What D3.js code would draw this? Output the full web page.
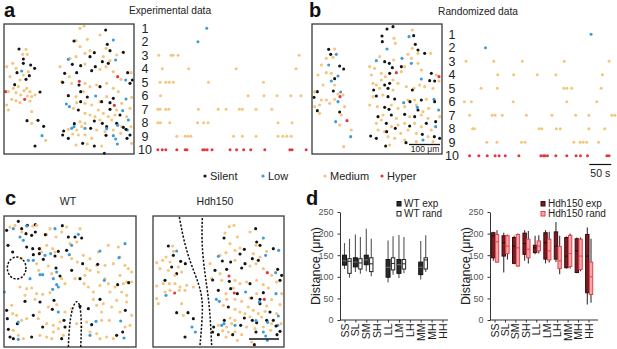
<!DOCTYPE html>
<html><head><meta charset="utf-8">
<script src="https://cdn.jsdelivr.net/npm/d3@7"></script>
<style>body{margin:0;background:#fff;} svg{display:block;font-family:"Liberation Sans",Arial,sans-serif;}</style>
</head><body><svg id="fig" width="617" height="349"></svg>
<script>
// ---------- DATA ----------
// cell positions, in field units (x, y, activity class)
const expCells = [
[57,87,"S"],[78,88,"M"],[68,103,"M"],[82,103,"M"],[70,117,"S"],[70,130,"S"],[92,135,"S"],[104,145,"S"],[38,130,"M"],[20,140,"M"],
[51,158,"S"],[65,153,"L"],[48,145,"M"],[85,155,"M"],[88,167,"S"],[78,178,"S"],[70,165,"M"],[60,180,"M"],[30,170,"M"],[44,194,"S"],
[40,205,"M"],[55,200,"M"],[80,205,"M"],[72,212,"M"],[17,215,"H"],[25,215,"M"],[48,218,"M"],[62,225,"M"],[90,215,"M"],[120,216,"S"],
[105,225,"M"],[95,230,"M"],[82,228,"M"],[35,238,"M"],[48,242,"M"],[74,238,"H"],[90,243,"M"],[60,248,"M"],[20,255,"M"],[25,270,"M"],
[95,275,"M"],[81,302,"S"],[114,301,"S"],[131,319,"S"],[95,310,"M"],[126,347,"L"],[137,361,"M"],[105,378,"S"],
[240,25,"M"],[252,18,"M"],[317,30,"S"],[300,45,"M"],[340,60,"L"],[228,62,"M"],[222,63,"S"],[262,58,"M"],[322,73,"S"],[318,85,"M"],
[330,92,"S"],[240,80,"M"],[270,92,"M"],[255,100,"M"],[283,98,"S"],[228,110,"M"],[210,115,"M"],[270,110,"S"],[310,110,"M"],[307,125,"S"],
[330,122,"M"],[370,97,"S"],[347,120,"L"],[350,105,"M"],[205,118,"L"],[217,133,"S"],[242,137,"S"],[255,132,"M"],[286,140,"S"],[300,148,"M"],
[180,140,"M"],[194,160,"S"],[208,170,"M"],[230,158,"S"],[275,152,"S"],[318,140,"M"],[325,130,"S"],[340,155,"M"],[383,158,"S"],[393,158,"M"],
[397,180,"S"],[353,170,"H"],[363,178,"M"],[377,180,"L"],[185,185,"M"],[188,187,"S"],[215,190,"M"],[238,184,"H"],[237,195,"S"],[255,190,"M"],
[270,200,"M"],[290,195,"M"],[300,200,"S"],[320,190,"M"],[340,205,"M"],[355,215,"M"],[390,190,"S"],[250,215,"M"],[242,215,"S"],[228,230,"M"],
[205,227,"S"],[287,228,"L"],[262,231,"S"],[300,245,"M"],[305,245,"S"],[320,230,"M"],[340,235,"S"],[330,248,"S"],[378,237,"L"],[395,232,"M"],
[199,252,"L"],[208,260,"L"],[230,248,"M"],[242,245,"S"],[255,250,"M"],[275,255,"M"],[295,270,"M"],[343,256,"H"],[330,268,"S"],[350,270,"M"],
[365,250,"M"],[368,272,"L"],[390,265,"M"],[235,270,"S"],[220,265,"M"],[255,280,"M"],[270,285,"M"],[285,290,"M"],[310,280,"M"],[325,290,"M"],
[345,285,"M"],[360,285,"S"],[380,290,"M"],[385,300,"L"],[223,311,"S"],[222,320,"L"],[240,305,"M"],[255,310,"M"],[283,303,"S"],[300,300,"M"],
[307,310,"S"],[320,320,"S"],[320,326,"L"],[335,300,"M"],[350,310,"S"],[353,316,"L"],[365,320,"M"],[370,322,"S"],[382,330,"L"],[393,320,"M"],
[378,328,"S"],[191,333,"S"],[205,328,"M"],[215,325,"L"],[230,330,"M"],[245,320,"M"],[255,325,"L"],[272,325,"S"],[290,330,"M"],[315,335,"M"],
[340,330,"M"],[188,345,"S"],[205,355,"S"],[218,342,"M"],[235,345,"M"],[255,345,"M"],[275,355,"M"],[318,346,"S"],[340,347,"L"],[347,357,"L"],
[362,340,"M"],[390,345,"S"],[381,355,"S"],[228,375,"M"],[248,370,"S"],[262,372,"M"],[283,378,"S"],[305,378,"M"],[352,372,"L"],[395,370,"M"],
[313,400,"S"]
];
const randCells = [
[62,88,"S"],[80,87,"M"],[68,103,"S"],[85,103,"L"],[75,112,"M"],[55,115,"M"],[62,135,"L"],[40,135,"M"],[95,138,"S"],[107,147,"S"],
[55,158,"M"],[70,160,"M"],[90,168,"L"],[80,176,"S"],[30,165,"M"],[70,183,"L"],[45,195,"M"],[80,195,"M"],[28,215,"S"],[20,215,"M"],
[76,213,"S"],[98,216,"L"],[90,222,"M"],[96,230,"H"],[105,225,"M"],[40,240,"M"],[55,240,"M"],[80,238,"M"],[90,245,"L"],[65,250,"M"],
[18,232,"S"],[35,255,"M"],[20,260,"M"],[110,260,"M"],[28,272,"S"],[35,280,"M"],[95,276,"S"],[100,285,"M"],[83,305,"L"],[117,302,"H"],
[95,315,"M"],[130,330,"M"],[128,350,"L"],[107,380,"M"],
[237,27,"S"],[255,20,"S"],[222,48,"S"],[258,55,"M"],[303,50,"L"],[317,47,"S"],[313,30,"M"],[322,73,"S"],[223,65,"S"],[262,70,"M"],
[237,87,"L"],[313,85,"M"],[330,90,"S"],[330,100,"M"],[350,100,"S"],[300,103,"M"],[368,100,"M"],[215,110,"M"],[205,122,"L"],[230,125,"S"],
[244,130,"S"],[257,120,"M"],[282,115,"L"],[310,115,"M"],[310,130,"L"],[330,130,"M"],[185,140,"M"],[200,145,"M"],[253,143,"S"],[280,140,"S"],
[290,140,"M"],[265,158,"H"],[280,155,"M"],[340,150,"M"],[370,160,"S"],[385,165,"M"],[393,170,"H"],[380,183,"S"],[340,177,"L"],[365,182,"S"],
[393,183,"M"],[190,165,"M"],[220,160,"M"],[245,160,"S"],[232,170,"M"],[255,180,"M"],[245,190,"S"],[270,190,"M"],[195,190,"M"],[230,195,"S"],
[220,180,"M"],[205,195,"M"],[197,210,"S"],[215,205,"M"],[240,205,"S"],[255,210,"M"],[295,200,"M"],[318,205,"M"],[313,210,"S"],[335,195,"M"],
[350,200,"M"],[375,205,"M"],[195,230,"M"],[205,228,"S"],[225,225,"M"],[240,230,"S"],[260,237,"S"],[287,248,"L"],[300,240,"M"],[306,245,"S"],
[320,240,"M"],[340,240,"S"],[355,238,"M"],[378,238,"L"],[380,245,"S"],[185,255,"M"],[208,260,"M"],[230,262,"S"],[250,255,"M"],[243,268,"S"],
[270,265,"M"],[290,260,"M"],[325,255,"M"],[330,270,"S"],[328,262,"L"],[345,275,"M"],[362,265,"M"],[392,270,"L"],[210,290,"S"],[225,285,"M"],
[250,285,"S"],[265,295,"M"],[290,283,"S"],[305,290,"M"],[320,290,"S"],[340,285,"M"],[360,295,"M"],[383,305,"S"],[395,290,"M"],[383,320,"L"],
[370,330,"M"],[205,310,"M"],[220,300,"M"],[235,310,"S"],[250,320,"M"],[270,315,"M"],[290,310,"M"],[305,318,"S"],[320,310,"M"],[340,320,"M"],
[355,310,"S"],[210,330,"M"],[230,335,"M"],[262,325,"S"],[278,340,"M"],[300,330,"M"],[325,340,"M"],[343,343,"S"],[345,360,"L"],[360,350,"M"],
[188,348,"S"],[205,355,"S"],[236,335,"S"],[240,350,"M"],[260,355,"M"],[233,378,"S"],[245,375,"M"],[290,360,"M"],[294,368,"S"],[325,365,"M"],
[379,350,"S"],[395,355,"S"],[375,365,"M"]
];
const wtCells = [
[55,28,"S"],[30,45,"M"],[40,50,"L"],[20,55,"S"],[45,40,"M"],[82,40,"S"],[98,42,"M"],[106,38,"S"],[80,42,"L"],[65,50,"S"],
[60,75,"L"],[78,65,"S"],[70,85,"L"],[65,60,"M"],[95,70,"S"],[106,60,"S"],[110,40,"M"],[150,50,"M"],[165,50,"L"],[187,41,"S"],
[200,45,"M"],[185,60,"M"],[140,68,"M"],[136,68,"S"],[168,75,"M"],[205,75,"S"],[225,75,"S"],[235,67,"L"],[245,78,"S"],[240,50,"M"],
[140,100,"M"],[158,110,"M"],[175,118,"S"],[210,95,"M"],[215,100,"L"],[200,115,"S"],[230,90,"M"],[125,120,"M"],[120,110,"M"],[24,100,"S"],
[80,105,"S"],[98,110,"S"],[118,110,"S"],[118,125,"S"],[100,128,"S"],[38,120,"S"],[100,145,"L"],[110,155,"M"],[135,130,"L"],[152,125,"L"],
[165,120,"M"],[165,132,"S"],[185,135,"M"],[208,128,"L"],[215,140,"M"],[232,150,"M"],[250,130,"M"],[248,155,"S"],[295,120,"M"],[325,100,"M"],
[375,95,"L"],[355,105,"M"],[300,117,"L"],[270,140,"M"],[290,160,"M"],[293,157,"S"],[270,175,"M"],[295,180,"M"],[315,160,"M"],[340,155,"M"],
[360,135,"M"],[357,137,"L"],[375,160,"M"],[385,170,"M"],[395,180,"M"],[360,190,"M"],[380,210,"M"],[370,215,"M"],[386,212,"S"],[395,210,"M"],
[130,142,"S"],[120,188,"L"],[116,175,"M"],[128,188,"L"],[145,162,"M"],[155,185,"M"],[168,168,"S"],[170,180,"L"],[180,192,"S"],[160,200,"L"],
[170,218,"L"],[158,232,"L"],[150,242,"M"],[175,225,"L"],[195,215,"M"],[185,200,"M"],[215,175,"S"],[240,200,"S"],[225,200,"M"],[260,170,"M"],
[255,190,"M"],[252,215,"M"],[265,225,"M"],[280,240,"M"],[300,220,"M"],[315,200,"M"],[325,215,"M"],[313,205,"L"],[330,240,"M"],[345,225,"M"],
[353,218,"S"],[365,240,"M"],[380,250,"M"],[90,200,"L"],[85,145,"L"],[65,140,"M"],[13,240,"L"],[60,225,"M"],[80,230,"M"],[95,228,"M"],
[75,268,"S"],[110,245,"M"],[128,247,"M"],[75,250,"M"],[120,270,"S"],[105,262,"M"],[162,265,"S"],[145,285,"M"],[157,292,"S"],[170,278,"M"],
[175,300,"L"],[195,300,"M"],[215,290,"M"],[240,283,"S"],[265,290,"S"],[280,262,"M"],[290,280,"M"],[300,262,"S"],[310,275,"M"],[305,300,"M"],
[335,285,"M"],[350,265,"M"],[380,270,"M"],[376,295,"S"],[360,300,"M"],[288,328,"L"],[305,325,"M"],[328,325,"M"],[362,327,"L"],[368,360,"S"],
[375,345,"M"],[372,378,"L"],[390,340,"M"],[395,310,"M"],[20,295,"S"],[35,280,"M"],[22,320,"S"],[38,305,"M"],[50,310,"M"],[52,335,"S"],
[65,325,"M"],[25,352,"S"],[40,355,"M"],[55,330,"L"],[80,320,"M"],[100,310,"S"],[118,300,"M"],[115,320,"M"],[128,345,"S"],[140,335,"M"],
[160,340,"M"],[192,325,"S"],[180,330,"M"],[195,345,"S"],[175,350,"M"],[160,360,"M"],[155,380,"M"],[185,380,"S"],[190,370,"M"],[230,335,"M"],
[245,345,"M"],[275,338,"S"],[260,330,"M"],[270,360,"M"],[270,370,"L"],[290,365,"M"],[320,375,"M"],[340,380,"M"],[350,370,"S"],[300,380,"M"],
[30,375,"S"],[40,380,"S"],[55,370,"M"],[55,382,"L"],[70,380,"M"],[95,375,"S"],[120,370,"M"],[140,375,"M"]
];
const hdhCells = [
[55,102,"S"],[68,102,"M"],[80,117,"L"],[70,118,"M"],[70,130,"S"],[48,135,"M"],[38,145,"M"],[20,152,"M"],[92,148,"S"],[106,155,"S"],
[60,150,"M"],[65,165,"S"],[85,165,"M"],[30,170,"M"],[55,175,"M"],[80,185,"S"],[95,180,"M"],[75,190,"M"],[45,205,"S"],[40,215,"M"],
[58,215,"M"],[20,222,"M"],[75,215,"M"],[90,225,"M"],[110,220,"M"],[130,225,"M"],[45,240,"M"],[74,243,"H"],[48,250,"L"],[60,235,"M"],
[88,235,"M"],[105,235,"M"],[20,260,"M"],[25,275,"M"],[95,275,"M"],[80,302,"S"],[114,302,"S"],[130,320,"S"],[100,310,"M"],[126,345,"L"],
[136,360,"L"],[105,375,"S"],
[238,44,"M"],[252,40,"M"],[317,50,"S"],[300,60,"M"],[340,78,"L"],[225,63,"M"],[222,78,"S"],[262,75,"M"],[320,90,"S"],[330,100,"S"],
[318,100,"M"],[240,95,"M"],[270,108,"M"],[255,115,"M"],[283,112,"S"],[228,122,"M"],[210,130,"M"],[270,126,"S"],[310,125,"M"],[307,140,"S"],
[330,135,"M"],[370,110,"S"],[347,130,"L"],[350,118,"M"],[386,115,"L"],[205,133,"L"],[217,147,"S"],[242,150,"S"],[255,145,"M"],[285,155,"S"],
[300,162,"M"],[180,155,"M"],[195,175,"S"],[210,185,"M"],[230,172,"S"],[275,168,"S"],[318,155,"M"],[325,145,"S"],[340,170,"M"],[383,172,"S"],
[395,190,"S"],[352,182,"H"],[365,190,"M"],[377,182,"L"],[185,200,"M"],[188,204,"S"],[215,205,"M"],[237,192,"H"],[238,208,"S"],[255,205,"M"],
[270,215,"M"],[290,210,"M"],[300,215,"S"],[320,205,"M"],[340,218,"M"],[355,228,"M"],[390,205,"S"],[380,210,"M"],[250,228,"M"],[242,230,"S"],
[228,245,"M"],[205,235,"S"],[287,240,"L"],[262,245,"S"],[300,258,"M"],[305,258,"S"],[320,245,"M"],[340,242,"S"],[330,262,"S"],[378,245,"L"],
[395,245,"M"],[199,262,"L"],[208,268,"L"],[230,262,"M"],[253,243,"H"],[235,285,"S"],[255,262,"M"],[275,268,"M"],[295,285,"M"],[343,262,"H"],
[330,275,"S"],[350,282,"M"],[365,263,"M"],[328,270,"L"],[390,278,"M"],[220,280,"M"],[255,292,"M"],[270,300,"M"],[285,305,"M"],[310,295,"M"],
[325,305,"M"],[345,298,"M"],[360,300,"S"],[380,305,"M"],[385,312,"L"],[223,325,"S"],[222,335,"L"],[240,318,"M"],[255,325,"M"],[283,318,"S"],
[300,315,"M"],[307,325,"S"],[320,332,"S"],[318,326,"L"],[335,315,"M"],[350,325,"S"],[353,331,"L"],[365,335,"M"],[370,325,"S"],[383,340,"L"],
[393,335,"M"],[378,342,"S"],[191,345,"S"],[205,340,"M"],[215,340,"L"],[230,345,"M"],[245,335,"M"],[255,340,"L"],[272,340,"S"],[290,345,"M"],
[315,350,"M"],[340,345,"M"],[188,360,"S"],[205,368,"S"],[218,356,"M"],[235,360,"M"],[255,360,"M"],[275,368,"M"],[318,360,"S"],[340,360,"L"],
[347,372,"L"],[362,355,"M"],[390,358,"S"],[381,368,"S"],[228,375,"M"],[248,368,"S"],[262,385,"M"],[305,390,"M"],[352,385,"L"],[313,398,"S"]
];
// raster: event times (s) per neuron 1..10
const rasterClass = ["L","L","M","M","M","M","M","M","M","H"];
const expRaster = [
[113],[93],
[4,32,37,48,323],
[12,72,180,316],
[7,20,28,37,117,242],
[8,207,243,273,304,327],
[2,7,20,27,94,139,157,187,194,225,261],
[2,8,29,92,106,116,275,307],
[45,64,71,77,174,194,225,275,286,295,305],
[2,12,20,45,64,68,104,108,114,125,166,181,197,213,245,302,307,339]
];
const randRaster = [
[291],[51],
[7,70,135,230,332],
[79,115,169,211,317],
[41,78,229,236,247,314],
[3,19,114,236,304],
[15,66,73,89,144,202,256,286,338,345],
[22,26,173,179,212,221,286,322],
[54,77,133,141,252,266,273,281,308],
[15,36,55,73,82,96,127,177,183,186,192,211,236,257,267,283,327,332]
];
// box plots: [min, q1, median, q3, max] (µm)
const pairCats = ["SS","SL","SM","SH","LL","LM","LH","MM","MH","HH"];
const wtExp  = [[118,127,137,150,178],[111,123,134,144,198],[113,128,139,150,211],null,[87,99,122,140,184],[97,108,128,140,197],null,[94,105,122,134,183],null,null];
const wtRand = [[98,108,136,142,188],[107,118,132,142,192],[101,112,130,144,188],null,[105,116,131,144,194],[108,118,130,140,192],null,[111,118,139,144,196],null,null];
const hdhExp = [[137,144,195,202,204],[110,148,179,195,202],[129,131,171,191,195],[137,152,177,201,208],[152,156,167,173,195],[131,141,179,202,208],[134,141,171,204,227],[119,121,148,191,193],[108,110,160,188,191],[36,63,148,198,214]];
const hdhRand= [[133,134,181,198,208],[140,154,171,195,198],[123,125,167,198,200],[131,144,164,187,206],[154,160,171,183,196],[133,139,160,187,204],[106,119,137,170,195],[119,124,154,196,200],[113,117,148,187,191],[40,59,100,134,188]];
const yTicks = [0,50,100,150,200,250];
const classNames = [["S","Silent"],["L","Low"],["M","Medium"],["H","Hyper"]];

// ---------- DRAW ----------
const svg = d3.select("#fig");
const col = {S:"#141414", L:"#3d9bd6", M:"#f5c57c", H:"#e5353f"};
const FONT = "'Liberation Sans',Arial,sans-serif";

function txt(x,y,s,o={}) {
  return svg.append("text").attr("x",x).attr("y",y).text(s)
    .attr("font-size",o.size||10).attr("font-weight",o.bold?"bold":"normal")
    .attr("text-anchor",o.anchor||"start").attr("fill",o.fill||"#222");
}

function field(cells, xr, yr, dx, dy) {
  const sx = d3.scaleLinear().domain(dx).range(xr);
  const sy = d3.scaleLinear().domain(dy).range(yr);
  const g = svg.append("g");
  g.selectAll("circle").data(cells).join("circle")
    .attr("cx",d=>sx(d[0])).attr("cy",d=>sy(d[1])).attr("r",1.55)
    .attr("fill",d=>col[d[2]]);
  g.append("rect").attr("x",xr[0]).attr("y",yr[0]).attr("width",xr[1]-xr[0]).attr("height",yr[1]-yr[0])
    .attr("fill","none").attr("stroke","#3a3a3a").attr("stroke-width",1.3);
  return {sx, sy, g};
}

function raster(data, x0, y0, yStep, labelX) {
  const sx = d3.scaleLinear().domain([0,50]).range([x0, x0+22]);
  const sy = d3.scalePoint().domain(d3.range(1,11)).range([y0, y0+9*yStep]);
  const g = svg.append("g");
  data.forEach((times,i)=>{
    g.append("text").attr("x",labelX).attr("y",sy(i+1)+4.3).attr("text-anchor","middle")
      .attr("font-size",12.5).attr("fill","#222").text(i+1);
    g.selectAll(null).data(times).join("circle")
      .attr("cx",t=>sx(t)).attr("cy",sy(i+1)).attr("r",1.5).attr("fill",col[rasterClass[i]]);
  });
  return sx;
}

// panel a
txt(4,17,"a",{size:20,bold:true,fill:"#111"});
txt(170,14,"Experimental data",{size:10.2,anchor:"middle"});
field(expCells,[4,134],[24,154],[12,402],[12,402]);
raster(expRaster,157,28.3,13.5,145);

// panel b
txt(309,17,"b",{size:20,bold:true,fill:"#111"});
txt(478,14.5,"Randomized data",{size:10.2,anchor:"middle"});
field(randCells,[312,442],[24,154],[12,402],[12,402]);
svg.append("line").attr("x1",409).attr("x2",440).attr("y1",144.5).attr("y2",144.5).attr("stroke","#111").attr("stroke-width",1.3);
txt(425,152,"100 μm",{size:8.5,anchor:"middle"});
const rb = raster(randRaster,463,34.3,13.5,452);
svg.append("line").attr("x1",rb(287)).attr("x2",rb(337)).attr("y1",164.5).attr("y2",164.5).attr("stroke","#111").attr("stroke-width",1.2);
txt((rb(287)+rb(337))/2,177,"50 s",{size:10.5,anchor:"middle"});

// legend
const legX = [205,263,325,382];
classNames.forEach((c,i)=>{
  svg.append("circle").attr("cx",legX[i]).attr("cy",176).attr("r",1.6).attr("fill",col[c[0]]);
  txt(legX[i]+5,179.5,c[1],{size:11});
});

// panel c
txt(5,205,"c",{size:20,bold:true,fill:"#111"});
txt(68,205,"WT",{size:10.5,anchor:"middle"});
txt(215,205,"Hdh150",{size:10.5,anchor:"middle"});
const wt = field(wtCells,[4,136],[216,347],[12,408],[12,405]);
const hd = field(hdhCells,[153,284],[216,347],[9,402],[12,405]);
const dashed = (g)=>g.attr("fill","none").attr("stroke","#111").attr("stroke-width",1.5).attr("stroke-dasharray","2.2,1.6");
// WT outlines (field units)
const wtRing = d3.range(0,361,10).map(a=>[50+28*Math.cos(a*Math.PI/180),168+33*Math.sin(a*Math.PI/180)]);
const wtArch = [[205,405],[207,360],[211,320],[218,285],[230,263],[240,278],[244,320],[244,360],[242,405]];
const hdLine1 = [[88,15],[100,80],[120,150],[145,210],[158,260],[157,320],[150,400]];
const hdLine2 = [[157,18],[155,80],[160,150],[170,220],[178,280],[182,340],[185,400]];
const lg = (s)=>d3.line().x(d=>s.sx(d[0])).y(d=>s.sy(d[1])).curve(d3.curveBasis);
dashed(svg.append("path").attr("d",d3.line().x(d=>wt.sx(d[0])).y(d=>wt.sy(d[1])).curve(d3.curveCardinalClosed)(wtRing.slice(0,-1))));
dashed(svg.append("path").attr("d",lg(wt)(wtArch)));
dashed(svg.append("path").attr("d",lg(hd)(hdLine1)));
dashed(svg.append("path").attr("d",lg(hd)(hdLine2)));
svg.append("line").attr("x1",249).attr("x2",279).attr("y1",339).attr("y2",339).attr("stroke","#111").attr("stroke-width",1.5);

// panel d
txt(306,205,"d",{size:20,bold:true,fill:"#111"});
const y = d3.scaleLinear().domain([0,250]).range([320,212]);

function boxPanel(axX, xEnd, x0, x1, exp, rand, sty, legend, legX) {
  const x = d3.scalePoint().domain(pairCats).range([x0,x1]);
  const g = svg.append("g");
  // axes
  const ya = g.append("g").attr("transform",`translate(${axX},0)`).call(d3.axisLeft(y).tickValues(yTicks).tickSize(2.5).tickSizeOuter(0));
  ya.selectAll("text").attr("font-size",9).attr("fill","#555").attr("font-family",FONT).attr("dx",-1);
  ya.selectAll("path,line").attr("stroke","#333");
  g.append("line").attr("x1",axX).attr("x2",xEnd).attr("y1",320).attr("y2",320).attr("stroke","#333");
  g.selectAll(".xt").data(pairCats).join("line").attr("x1",d=>x(d)).attr("x2",d=>x(d)).attr("y1",320).attr("y2",322.5).attr("stroke","#333");
  g.selectAll(".xl").data(pairCats).join("text")
    .attr("transform",d=>`translate(${x(d)+3.6},323.5) rotate(-90)`).attr("text-anchor","end")
    .attr("font-size",10.5).attr("fill","#222").text(d=>d);
  g.append("text").attr("transform",`translate(${axX-20},266) rotate(-90)`).attr("text-anchor","middle")
    .attr("font-size",12.5).attr("fill","#222").text("Distance (μm)");
  const series = [[exp,sty.exp,sty.off[0]],[rand,sty.rand,sty.off[1]]];
  series.forEach(([data,st,off])=>{
    data.forEach((d,i)=>{
      if(!d) return;
      const cx = x(pairCats[i])+off;
      g.append("line").attr("x1",cx).attr("x2",cx).attr("y1",y(d[0])).attr("y2",y(d[4])).attr("stroke",st.wh).attr("stroke-width",1.1);
      g.append("rect").attr("x",cx-st.w/2).attr("y",y(d[3])).attr("width",st.w).attr("height",y(d[1])-y(d[3]))
        .attr("fill",st.fill).attr("stroke",st.stroke).attr("stroke-width",1);
      g.append("line").attr("x1",cx-st.w/2).attr("x2",cx+st.w/2).attr("y1",y(d[2])).attr("y2",y(d[2])).attr("stroke",st.med).attr("stroke-width",1);
    });
  });
  legend.forEach((l,i)=>{
    const st = i===0?sty.exp:sty.rand;
    g.append("rect").attr("x",legX).attr("y",201.5+i*10).attr("width",4).attr("height",4.5).attr("fill",st.fill).attr("stroke",st.stroke).attr("stroke-width",1);
    g.append("text").attr("x",legX+7).attr("y",207+i*10).attr("font-size",10).attr("fill","#222").text(l);
  });
}

boxPanel(340,448,345,443,wtExp,wtRand,{
  exp:{fill:"#2a2a2a",stroke:"#111",med:"#777",wh:"#555",w:4},
  rand:{fill:"#fff",stroke:"#222",med:"#222",wh:"#555",w:3.4},
  off:[-0.5,4.5]
},["WT exp","WT rand"],397);

boxPanel(490,598,495,589,hdhExp,hdhRand,{
  exp:{fill:"#7c1b20",stroke:"#3a0a0c",med:"#111",wh:"#333",w:3.4},
  rand:{fill:"#f6a6a9",stroke:"#e2434d",med:"#e2434d",wh:"#333",w:3.4},
  off:[-1.7,2]
},["Hdh150 exp","Hdh150 rand"],541);
</script></body></html>
